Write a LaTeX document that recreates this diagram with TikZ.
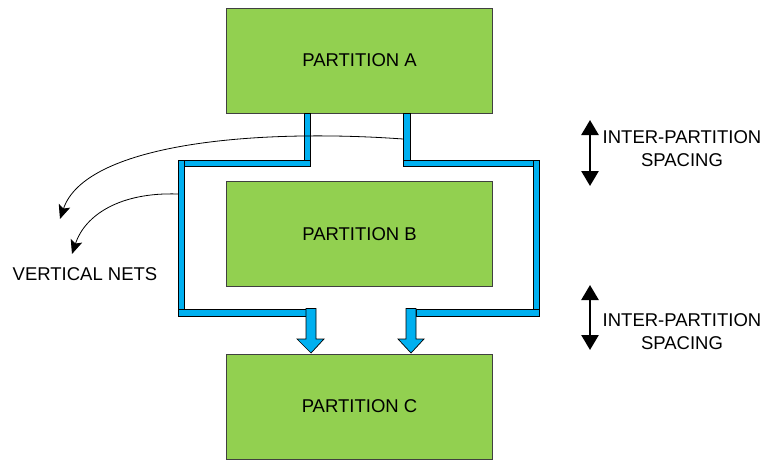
\documentclass[tikz,border=0pt]{standalone}
\usepackage{fontspec}
\setmainfont{Liberation Sans}
\usepackage{tikz}
\usetikzlibrary{arrows.meta}
\definecolor{partgreen}{RGB}{146,208,80}
\definecolor{netblue}{RGB}{0,176,240}
\tikzset{
  partition/.style={draw=black!75,line width=0.8pt,fill=partgreen,minimum width=266pt,minimum height=105pt,font=\fontsize{18.5}{22}\selectfont},
  net/.style={draw=black,line width=0.7pt,fill=netblue},
  lbl/.style={align=center,font=\fontsize{18.5}{23}\selectfont},
  spacing/.style={line width=2.6pt,{Triangle[length=15pt,width=17pt]}-{Triangle[length=15pt,width=17pt]}},
  netarrow/.style={line width=0.8pt,-{Stealth[length=14pt,width=12pt,inset=3pt]}}
}
\begin{document}
\begin{tikzpicture}[x=1pt,y=-1pt]
	\useasboundingbox (0,0) rectangle (767,460);
	% partitions
	\node[partition] (partA) at (359.5,60.5) {PARTITION A};
	\node[partition] (partB) at (359.5,234) {PARTITION B};
	\node[partition] (partC) at (359.5,406.5) {PARTITION C};
	% left net
	\draw[net] (304,113) rectangle (310,166);
	\draw[net] (178,160) rectangle (310,166);
	\draw[net] (178,160) rectangle (184,316);
	\draw[net] (178,309.5) rectangle (306,316);
	\draw[net] (306,308.5) -- (316,308.5) -- (316,339) -- (324,339) -- (311,353) -- (297,339) -- (306,339) -- cycle;
	% right net
	\draw[net] (403,113) rectangle (410,166);
	\draw[net] (403,160) rectangle (539,166);
	\draw[net] (533,160) rectangle (539,316);
	\draw[net] (416,309.5) rectangle (539,316);
	\draw[net] (406,308.5) -- (416,308.5) -- (416,339) -- (424,339) -- (411,353) -- (398,339) -- (406,339) -- cycle;
	% vertical nets
	\coordinate (netR) at (403,139);
	\coordinate (netL) at (178,194);
	\coordinate (tipR) at (60,219);
	\coordinate (tipL) at (72,254);
	\draw[netarrow] (netR) .. controls (250,128) and (85,145) .. (tipR);
	\draw[netarrow] (netL) .. controls (120,192) and (85,215) .. (tipL);
	\node[lbl] (vnets) at (85,274) {VERTICAL NETS};
	% spacing
	\coordinate (sp1a) at (590,120);
	\coordinate (sp1b) at (590,186);
	\coordinate (sp2a) at (590,285);
	\coordinate (sp2b) at (590,350);
	\draw[spacing] (sp1a) -- (sp1b);
	\draw[spacing] (sp2a) -- (sp2b);
	\node[lbl] (space1) at (682,149) {INTER-PARTITION\\SPACING};
	\node[lbl] (space2) at (682,332) {INTER-PARTITION\\SPACING};
\end{tikzpicture}
\end{document}
